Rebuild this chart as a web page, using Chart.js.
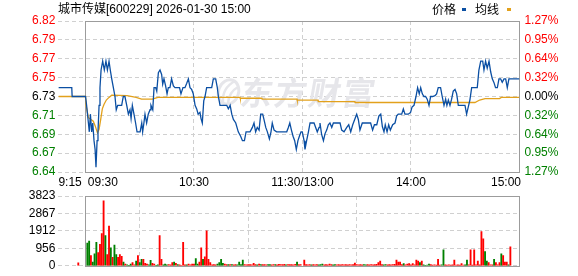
<!DOCTYPE html>
<html><head><meta charset="utf-8">
<script src="https://cdn.jsdelivr.net/npm/chart.js@4.4.1/dist/chart.umd.min.js"></script>
<style>
html,body{margin:0;padding:0;background:#fff;}
#wrap{position:relative;width:578px;height:276px;overflow:hidden;}
canvas{position:absolute;left:0;top:0;}
</style></head><body>
<div id="wrap">
<canvas id="pc" width="578" height="276"></canvas>
<canvas id="vc" width="578" height="276"></canvas>
</div>
<script>
// ---------- data ----------
const stockTitle = '城市传媒[600229] 2026-01-30 15:00';
const legendNames = ['价格', '均线'];
const watermarkText = '东方财富';
const prevClose = 6.73;
const pctRange = 0.0127;
const priceTickLabels = ['6.64','6.67','6.69','6.71','6.73','6.75','6.77','6.79','6.82'];
const pctTickLabels = ['1.27%','0.95%','0.64%','0.32%','0.00%','0.32%','0.64%','0.95%','1.27%'];
const volMax = 3823;
const volTickLabels = ['0','956','1912','2867','3823'];
const timeTickMinutes = [-15, 0, 60, 120, 180, 240];
const timeTickLabels = ['9:15', '09:30', '10:30', '11:30/13:00', '14:00', '15:00'];

const priceMinutes = [
 -15,-7.6,-7.4,0,0.6,1.6,2.1,2.7,3.4,4.0,
 4.7,5.3,5.8,6.4,6.9,7.5,8.0,8.6,9.5,10.4,
 11.3,12.1,13.0,13.7,14.5,15.4,16.3,17.0,17.8,20.0,
 20.9,21.8,22.8,23.7,24.6,25.2,25.9,26.8,27.7,28.5,
 30.2,31.1,31.6,32.3,32.9,33.8,34.7,35.7,36.2,37.2,
 37.9,38.8,39.4,40.3,41.2,42.1,42.7,43.4,44.3,45.1,
 45.8,46.7,47.6,48.6,49.5,52.0,52.8,53.9,55.0,56.0,
 56.9,57.8,58.7,59.6,60.6,61.5,62.3,63.3,63.9,64.6,
 65.4,66.1,67.0,69.8,70.7,72.0,72.9,73.5,74.4,78.1,
 79.0,80.0,80.9,81.8,83.1,84.5,85.8,86.8,87.9,88.8,
 91.0,92.3,93.2,94.1,95.0,96.0,96.9,98.0,98.7,99.7,
 100.6,101.7,102.6,103.3,104.3,105.7,111.3,112.2,113.0,113.9,
 114.8,115.7,116.6,117.5,118.3,119.2,119.9,120.9,121.4,122.3,
 123.3,124.2,126.4,127.3,128.2,129.2,129.7,130.6,131.6,132.5,
 133.4,134.3,135.2,136.2,137.1,140.8,141.7,143.0,144.5,145.6,
 146.7,147.8,149.1,150.0,150.9,151.8,153.1,157.7,158.8,159.8,
 161.1,162.3,163.3,164.2,165.1,165.8,166.8,167.7,168.6,169.9,
 171.2,172.1,173.0,174.9,175.8,176.7,178.5,179.8,180.6,181.7,
 182.8,183.7,184.6,185.4,186.3,187.2,188.1,189.0,190.0,190.9,
 192.0,193.3,194.2,195.1,196.4,197.3,198.3,199.2,199.9,200.7,
 201.6,202.5,203.4,204.4,205.3,206.2,209.9,210.8,211.7,212.6,
 213.6,216.7,217.6,218.6,219.7,220.4,221.3,222.2,223.2,224.1,
 225.0,225.9,226.8,227.8,228.7,229.6,230.5,231.5,232.4,233.3,
 234.2,240
];
const priceValues = [
 6.74,6.74,6.73,6.73,6.72,6.70,6.69,6.71,6.69,6.70,
 6.68,6.67,6.65,6.68,6.69,6.72,6.74,6.76,6.77,6.76,
 6.77,6.76,6.77,6.76,6.75,6.74,6.73,6.715,6.72,6.72,
 6.73,6.73,6.72,6.71,6.715,6.705,6.72,6.71,6.70,6.69,
 6.69,6.70,6.69,6.70,6.71,6.70,6.71,6.715,6.72,6.715,
 6.74,6.74,6.736,6.757,6.76,6.755,6.744,6.75,6.742,6.733,
 6.74,6.74,6.75,6.742,6.74,6.74,6.733,6.74,6.74,6.745,
 6.75,6.74,6.738,6.733,6.72,6.716,6.71,6.712,6.705,6.70,
 6.725,6.73,6.74,6.74,6.75,6.75,6.74,6.73,6.72,6.72,
 6.716,6.72,6.71,6.704,6.70,6.69,6.685,6.68,6.68,6.69,
 6.69,6.695,6.70,6.69,6.695,6.692,6.71,6.71,6.704,6.695,
 6.69,6.682,6.69,6.70,6.692,6.69,6.69,6.695,6.70,6.692,
 6.685,6.68,6.67,6.68,6.685,6.69,6.69,6.68,6.67,6.68,
 6.69,6.70,6.70,6.695,6.69,6.695,6.70,6.687,6.68,6.688,
 6.692,6.698,6.70,6.695,6.70,6.70,6.692,6.69,6.695,6.698,
 6.69,6.698,6.705,6.71,6.704,6.692,6.70,6.70,6.692,6.698,
 6.698,6.708,6.71,6.696,6.69,6.698,6.69,6.698,6.692,6.698,
 6.70,6.708,6.71,6.71,6.716,6.71,6.71,6.712,6.718,6.72,
 6.73,6.74,6.733,6.74,6.733,6.73,6.73,6.727,6.72,6.73,
 6.73,6.731,6.733,6.74,6.74,6.73,6.72,6.727,6.72,6.726,
 6.72,6.727,6.736,6.738,6.733,6.72,6.72,6.71,6.718,6.726,
 6.74,6.74,6.76,6.77,6.77,6.76,6.77,6.762,6.77,6.758,
 6.75,6.746,6.74,6.74,6.75,6.75,6.746,6.75,6.75,6.74,
 6.75,6.75
];
const avgMinutes = [-15,0,0.3,1.6,3,4.3,5.3,6.6,7.5,8.4,9.3,10.2,11.5,13,14.5,23,28,31,37,40,
 85.5,85.6,97.6,97.7,117,117.1,128.6,128.7,149,149.1,215.4,218,221,229,230,240];
const avgValues = [6.73,6.73,6.72,6.706,6.704,6.702,6.697,6.689,6.693,6.704,6.716,6.721,6.726,6.729,6.7315,6.731,6.729,6.727,6.727,6.729,
 6.729,6.728,6.728,6.727,6.727,6.726,6.726,6.7243,6.7243,6.7232,6.7232,6.726,6.7277,6.7277,6.729,6.729];

// volume per minute, 09:30 (index 0) .. 15:00 (index 240)
const volumes = [
 0,1250,1350,560,210,660,1290,730,1180,1770,
 3560,1650,610,2170,990,470,1130,610,470,610,
 520,210,90,50,30,90,170,50,260,560,
 170,350,350,140,90,50,300,140,90,30,
 50,1650,350,50,90,50,70,50,170,210,
 140,70,50,30,1290,50,50,90,50,100,
 100,400,100,210,990,350,490,1910,350,170,
 50,60,50,90,170,350,140,90,60,70,
 60,70,50,60,50,210,60,310,60,50,
 70,60,50,140,60,50,90,60,70,60,
 50,70,60,50,70,60,50,80,60,60,
 80,50,60,70,60,50,80,210,60,60,
 0,310,60,50,60,50,60,50,60,50,
 60,100,50,60,50,100,60,50,60,50,
 60,50,60,50,60,50,60,50,60,150,
 60,50,60,50,60,50,60,50,60,50,
 60,80,170,260,60,50,60,50,60,50,
 60,80,310,210,210,70,120,50,90,120,
 50,120,50,310,260,170,260,50,30,40,
 100,70,40,50,40,350,40,50,870,50,
 40,50,40,50,310,40,50,40,120,40,
 50,310,50,870,40,870,50,260,50,1880,
 1480,780,260,170,50,50,350,170,50,170,
 660,560,210,210,50,1040,0,0,0,0,
 0
];
const volDirection = [
 1,-1,-1,1,-1,-1,-1,1,1,1,
 1,-1,1,1,-1,1,-1,-1,1,1,
 1,-1,1,-1,-1,-1,1,1,-1,1,
 -1,-1,1,1,1,-1,-1,1,1,-1,
 -1,1,1,-1,-1,-1,1,1,1,-1,
 1,-1,1,1,1,1,-1,1,1,1,
 1,-1,-1,1,1,-1,1,1,1,1,
 1,1,1,-1,-1,-1,-1,1,1,-1,
 1,-1,1,1,-1,-1,-1,-1,1,1,
 1,1,1,1,1,-1,1,-1,1,1,
 1,-1,-1,1,1,-1,1,1,1,1,
 1,-1,1,1,1,1,1,-1,1,1,
 1,1,1,1,1,-1,1,1,1,-1,
 -1,-1,1,1,1,1,1,-1,-1,1,
 1,1,1,1,1,1,1,1,1,1,
 1,1,1,1,-1,-1,1,1,1,1,
 1,1,1,1,1,-1,-1,1,1,1,
 1,1,1,1,1,1,-1,1,1,1,
 1,1,1,1,1,-1,1,-1,-1,-1,
 -1,1,1,1,1,1,1,-1,-1,1,
 1,1,1,1,1,1,1,1,1,1,
 -1,-1,1,1,1,1,1,1,1,1,
 1,-1,-1,1,1,1,-1,1,1,1,
 -1,1,1,1,-1,1,1,1,1,1,
 1
];
const auctionMinute = -4;
const auctionVolume = 160;
const auctionDirection = 1;

// ---------- styling ----------
const RED = '#ff0000', GREEN = '#008000', GRID = '#d0d0d0', FRAME = '#9c9c9c';
const PRICE_COLOR = '#0b4fa3', AVG_COLOR = '#e2a11c';
const DASH = [4, 3];
const FONT = "'Liberation Sans', 'Noto Sans CJK SC', sans-serif";
Chart.defaults.font.family = FONT;
Chart.defaults.font.size = 12;
Chart.defaults.color = '#000';

const yMin = prevClose * (1 - pctRange), yMax = prevClose * (1 + pctRange);
const priceTickValues = priceTickLabels.map((_, k) => prevClose * (1 + pctRange * (k - 4) / 4));
const volTickValues = volTickLabels.map((_, k) => volMax * k / 4);
const innerGridMinutes = [60, 120, 180];

function sideColor(c) { const i = c.index; return i < 4 ? GREEN : (i === 4 ? '#000' : RED); }
function xGridColor(c) { return (c.tick && innerGridMinutes.includes(c.tick.value)) ? GRID : 'rgba(0,0,0,0)'; }

const xScale = () => ({
  type: 'linear', min: -15, max: 240, offset: false,
  afterBuildTicks: s => { s.ticks = timeTickMinutes.map(v => ({ value: v })); },
  afterFit: s => { s.height = 0; },
  ticks: { display: false },
  grid: { color: xGridColor, drawTicks: false, lineWidth: 1 },
  border: { display: false, dash: DASH }
});

const framePlugin = {
  id: 'frame',
  beforeDatasetsDraw(chart, args, opts) {
    const { ctx, chartArea: a, scales: { x } } = chart;
    ctx.save();
    if (opts.watermark) {
      ctx.fillStyle = '#e6e6ea';
      ctx.strokeStyle = '#e6e6ea';
      // logo
      ctx.lineWidth = 3;
      ctx.beginPath(); ctx.ellipse(228.5, 92, 10, 12.5, 0.35, 0, Math.PI * 2); ctx.stroke();
      ctx.lineWidth = 2.5;
      ctx.beginPath(); ctx.moveTo(223, 102); ctx.quadraticCurveTo(222, 88, 235, 81); ctx.stroke();
      ctx.beginPath(); ctx.moveTo(228, 103); ctx.quadraticCurveTo(229, 92, 238, 87); ctx.stroke();
      // text
      ctx.save();
      ctx.translate(0, 93);
      ctx.transform(1, 0, -0.18, 1, 0, 0);
      ctx.font = "bold 32px 'Noto Sans CJK SC'";
      ctx.textBaseline = 'middle';
      ctx.textAlign = 'left';
      try { ctx.letterSpacing = '2px'; } catch (e) {}
      ctx.fillText(watermarkText, 241, 0);
      ctx.restore();
    }
    const x0 = Math.floor(x.getPixelForValue(0)) + 0.5;
    const x1 = Math.floor(x.getPixelForValue(240)) + 0.5;
    const t = Math.round(a.top) + 0.5, b = Math.round(a.bottom) + 0.5;
    ctx.strokeStyle = FRAME; ctx.lineWidth = 1; ctx.setLineDash([]);
    ctx.strokeRect(x0, t, x1 - x0, b - t);
    ctx.restore();
  },
  afterDraw(chart, args, opts) {
    if (!opts.labels) return;
    const { ctx, scales: { x } } = chart;
    ctx.save();
    ctx.font = "12px " + FONT;
    ctx.fillStyle = '#000';
    // title & legend
    ctx.textBaseline = 'alphabetic';
    ctx.textAlign = 'left';
    ctx.fillText(stockTitle, 58, 13);
    ctx.fillText(legendNames[0], 432, 14);
    ctx.fillStyle = PRICE_COLOR; ctx.fillRect(462, 8, 4, 3);
    ctx.fillStyle = '#000';
    ctx.fillText(legendNames[1], 475, 14);
    ctx.fillStyle = AVG_COLOR; ctx.fillRect(507, 8, 4, 3);
    // time labels
    ctx.fillStyle = '#000';
    ctx.textBaseline = 'middle';
    const aligns = ['left', 'left', 'center', 'center', 'center', 'right'];
    const shifts = [0, 2.3, 0, 0, 0, 1.6];
    timeTickMinutes.forEach((m, i) => {
      ctx.textAlign = aligns[i];
      ctx.fillText(timeTickLabels[i], x.getPixelForValue(m) + shifts[i], 183);
    });
    ctx.restore();
  }
};

// ---------- price chart ----------
new Chart(document.getElementById('pc'), {
  type: 'line',
  data: {
    datasets: [
      { label: legendNames[0], data: priceMinutes.map((m, i) => ({ x: m, y: priceValues[i] })),
        borderColor: PRICE_COLOR, borderWidth: 1.3, pointRadius: 0, tension: 0, fill: false },
      { label: legendNames[1], data: avgMinutes.map((m, i) => ({ x: m, y: avgValues[i] })),
        borderColor: AVG_COLOR, borderWidth: 1.3, pointRadius: 0, tension: 0, fill: false }
    ]
  },
  options: {
    responsive: false, animation: false, events: [],
    layout: { padding: { top: 21, bottom: 104, left: 0, right: 0 } },
    plugins: { legend: { display: false }, tooltip: { enabled: false }, frame: { watermark: true, labels: true } },
    scales: {
      x: xScale(),
      y: {
        position: 'left', min: yMin, max: yMax,
        afterBuildTicks: s => { s.ticks = priceTickValues.map(v => ({ value: v })); },
        afterFit: s => { s.width = 58.4; },
        ticks: { padding: 3, autoSkip: false, color: sideColor, callback: (v, i) => priceTickLabels[i] },
        grid: { color: GRID, drawTicks: false, lineWidth: 1 },
        border: { display: false, dash: DASH }
      },
      y2: {
        position: 'right', min: yMin, max: yMax,
        afterBuildTicks: s => { s.ticks = priceTickValues.map(v => ({ value: v })); },
        afterFit: s => { s.width = 58.6; },
        ticks: { padding: 5, autoSkip: false, color: sideColor, callback: (v, i) => pctTickLabels[i] },
        grid: { display: false, drawTicks: false },
        border: { display: false }
      }
    }
  },
  plugins: [framePlugin]
});

// ---------- volume chart ----------
const volData = [], volColors = [];
volData.push({ x: auctionMinute, y: auctionVolume });
volColors.push(auctionDirection > 0 ? RED : GREEN);
volumes.forEach((v, i) => {
  if (v > 0) { volData.push({ x: i, y: v }); volColors.push(volDirection[i] > 0 ? RED : GREEN); }
});

new Chart(document.getElementById('vc'), {
  type: 'bar',
  data: { datasets: [{ data: volData, backgroundColor: volColors, borderWidth: 0, barThickness: 1.2 }] },
  options: {
    responsive: false, animation: false, events: [],
    layout: { padding: { top: 196, bottom: 6, left: 0, right: 58.6 } },
    plugins: { legend: { display: false }, tooltip: { enabled: false }, frame: { watermark: false, labels: false } },
    scales: {
      x: xScale(),
      y: {
        position: 'left', min: 0, max: volMax,
        afterBuildTicks: s => { s.ticks = volTickValues.map(v => ({ value: v })); },
        afterFit: s => { s.width = 58.4; },
        ticks: { padding: 3, autoSkip: false, color: '#000', callback: (v, i) => volTickLabels[i] },
        grid: { color: GRID, drawTicks: false, lineWidth: 1 },
        border: { display: false, dash: DASH }
      }
    }
  },
  plugins: [framePlugin]
});
</script>
</body></html>
